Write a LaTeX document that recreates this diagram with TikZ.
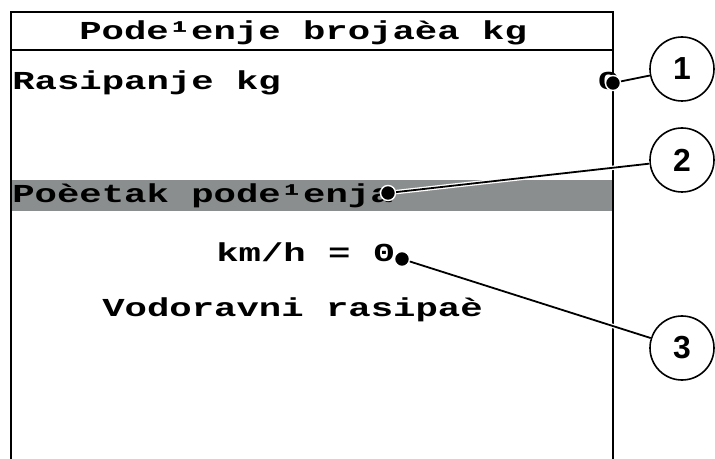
\documentclass[tikz,border=0pt]{standalone}
\usepackage{fontspec}
\newfontfamily\lcdfont{Liberation Mono}
\newfontfamily\calloutfont{Liberation Sans}
\definecolor{barGray}{RGB}{138,142,142}
\tikzset{
    lcd/.style={font=\lcdfont\bfseries\fontsize{26}{26}\selectfont, inner sep=0pt, xscale=1.44, transform shape},
    dot/.style={circle, fill=black, draw=white, line width=1.4bp, minimum size=15bp, inner sep=0pt},
    callout/.style={circle, draw, fill=white, line width=1.6bp, minimum size=64bp, inner sep=0pt,
        font=\calloutfont\bfseries\fontsize{32}{32}\selectfont}
}
\begin{document}
\begin{tikzpicture}[x=1bp, y=-1bp]
        \useasboundingbox (0,0) rectangle (715,459);
        % display
        \fill[barGray] (11,180) rectangle (613,211);
        \draw[line width=1.6bp] (11,459) -- (11,12) -- (613,12) -- (613,459);
        \draw[line width=1.2bp] (11,50) -- (613,50);
        \begin{scope}[every node/.style={lcd, anchor=base west}]
            \node (title) at (79,40) {Pode¹enje brojaèa kg};
            \node (kg) at (12,90) {Rasipanje kg};
            \node (kgval) at (597,90) {0};
            \node (start) at (12,203) {Poèetak pode¹enja};
            \node (speed) at (216,262) {km/h = 0};
            \node (mode) at (102,317) {Vodoravni rasipaè};
        \end{scope}
        \begin{scope}[every node/.style={dot}]
            \node (d1) at (613,83) {};
            \node (d2) at (388,193) {};
            \node (d3) at (402,259) {};
        \end{scope}
        \begin{scope}[every node/.style={callout}]
            \node (c1) at (682,69) {1};
            \node (c2) at (682,160) {2};
            \node (c3) at (682,348) {3};
        \end{scope}
        \begin{scope}[every edge/.style={draw=white, line width=1.3bp, double=black, double distance=1.8bp}]
            \path
                (d1) edge (c1)
                (d2) edge (c2)
                (d3) edge (c3);
        \end{scope}
    \end{tikzpicture}
\end{document}
